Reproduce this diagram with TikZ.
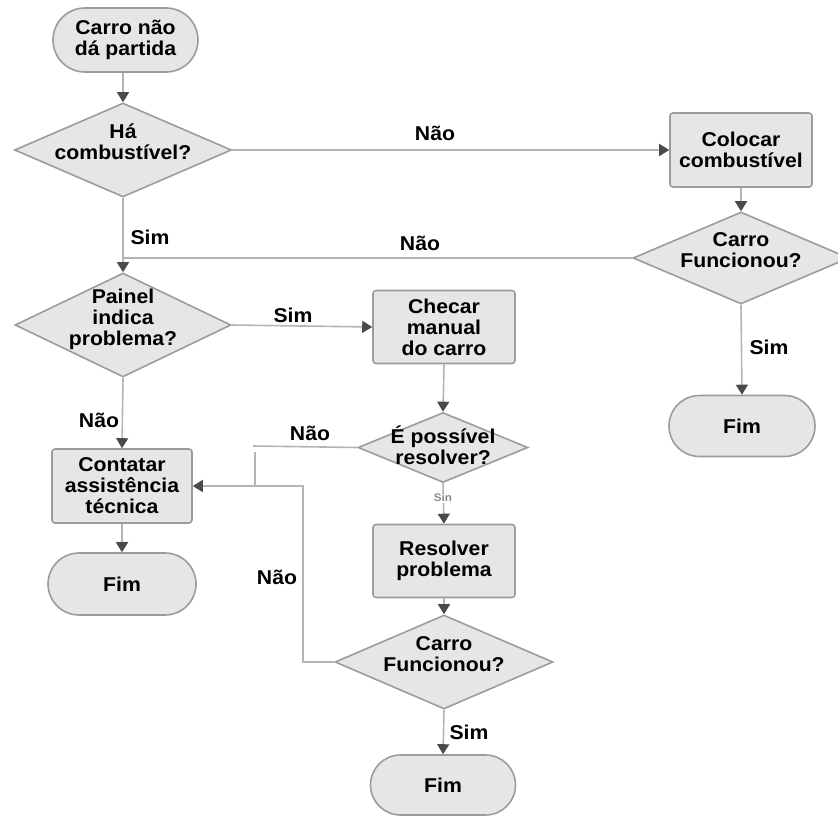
\documentclass[tikz,border=0pt]{standalone}
\usepackage{fontspec}
\setmainfont[FakeStretch=1.06]{Liberation Sans}
\usetikzlibrary{shapes.geometric,shapes.misc,arrows.meta}
\definecolor{fillgray}{HTML}{E6E6E6}
\definecolor{edgegray}{HTML}{9C9C9C}
\definecolor{linegray}{HTML}{B4B4B4}
\definecolor{headgray}{HTML}{4A4A4A}
\definecolor{faintgray}{HTML}{8A8A8A}
\begin{document}
\begin{tikzpicture}[x=1pt,y=-1pt,
  every node/.style={font=\bfseries\fontsize{20}{21}\selectfont, inner sep=0pt, text=black},
  shapebase/.style={draw=edgegray, fill=fillgray, line width=1.6pt},
  terminal/.style n args={2}{shapebase, rounded rectangle, align=center,
    minimum width=#1, minimum height=#2},
  process/.style n args={2}{shapebase, rectangle, rounded corners=3pt, align=center,
    minimum width=#1, minimum height=#2},
  decision/.style n args={2}{shapebase, diamond, minimum width=#1, minimum height=#2},
  dtext/.style 2 args={label={[yshift=#1, align=center]center:#2}},
  lbl/.style={},
  conn/.style={draw=linegray, line width=1.6pt},
  arr/.style={conn, -{Triangle[length=10pt,width=12pt,color=headgray]}}
]
\useasboundingbox (0,0) rectangle (838,816);
\clip (0,0) rectangle (838,816);

% shapes
\node[terminal={145pt}{64pt}] (start) at (125.5,40) {Carro não\\dá partida};
\node[decision={217pt}{94pt}, dtext={8pt}{Há\\combustível?}] (fuel) at (123,150) {};
\node[process={142pt}{74pt}] (refuel) at (741,150) {Colocar\\combustível};
\node[decision={216pt}{92pt}, dtext={8pt}{Carro\\Funcionou?}] (worksA) at (741,258) {};
\node[terminal={146pt}{61pt}] (endA) at (742,426) {Fim};
\node[decision={216pt}{104pt}, dtext={6pt}{Painel\\indica\\problema?}] (panel) at (123,325) {};
\node[process={142pt}{73pt}] (manual) at (444,327) {Checar\\manual\\do carro};
\node[decision={170pt}{70pt}, dtext={2pt}{É possível\\resolver?}] (canfix) at (443,447.5) {};
\node[process={140pt}{74pt}] (support) at (122,486) {Contatar\\assistência\\técnica};
\node[terminal={148pt}{62pt}] (endL) at (122,584) {Fim};
\node[process={142pt}{73pt}] (fix) at (444,561) {Resolver\\problema};
\node[decision={218pt}{94pt}, dtext={8pt}{Carro\\Funcionou?}] (worksB) at (444,662) {};
\node[terminal={145pt}{60pt}] (endB) at (443,785) {Fim};

% helper points of the broken "Não" route
\coordinate (nA) at (253,446);
\coordinate (nB) at (255,452);
\coordinate (nC) at (255,486);
\coordinate (nD) at (303,486);

% connectors
\draw[arr] (fuel.north |- start.south) -- (fuel.north);
\draw[arr] (fuel.east) -- (refuel.west);
\draw[arr] (refuel.south) -- (worksA.north);
\draw[conn] (worksA.west) -- (fuel.south |- worksA.west);
\draw[arr] (fuel.south) -- (panel.north);
\draw[arr] (worksA.south) -- (endA.north);
\draw[arr] (panel.east) -- (manual.west);
\draw[arr] (panel.south) -- (support.north);
\draw[arr] (support.south) -- (endL.north);
\draw[arr] (manual.south) -- (canfix.north);
\draw[arr] (canfix.south) -- (fix.north);
\draw[arr] (fix.south) -- (worksB.north);
\draw[arr] (worksB.south) -- (endB.north);
\draw[conn] (canfix.west) -- (nA);
\draw[conn] (nB) -- (nC);
\draw[arr] (worksB.west) -| (nD) -- (support.east);

% branch labels
\node[lbl] (t1) at (435,133) {Não};
\node[lbl] (t2) at (150,237) {Sim};
\node[lbl] (t3) at (420,243) {Não};
\node[lbl] (t4) at (769,347) {Sim};
\node[lbl] (t5) at (293,315) {Sim};
\node[lbl] (t6) at (99,420) {Não};
\node[lbl] (t7) at (310,433) {Não};
\node[font=\bfseries\fontsize{11}{12}\selectfont, text=faintgray, fill=white, inner sep=1pt] (t8) at (443,498) {Sin};
\node[lbl] (t9) at (277,577) {Não};
\node[lbl] (t10) at (469,732) {Sim};
\end{tikzpicture}
\end{document}
